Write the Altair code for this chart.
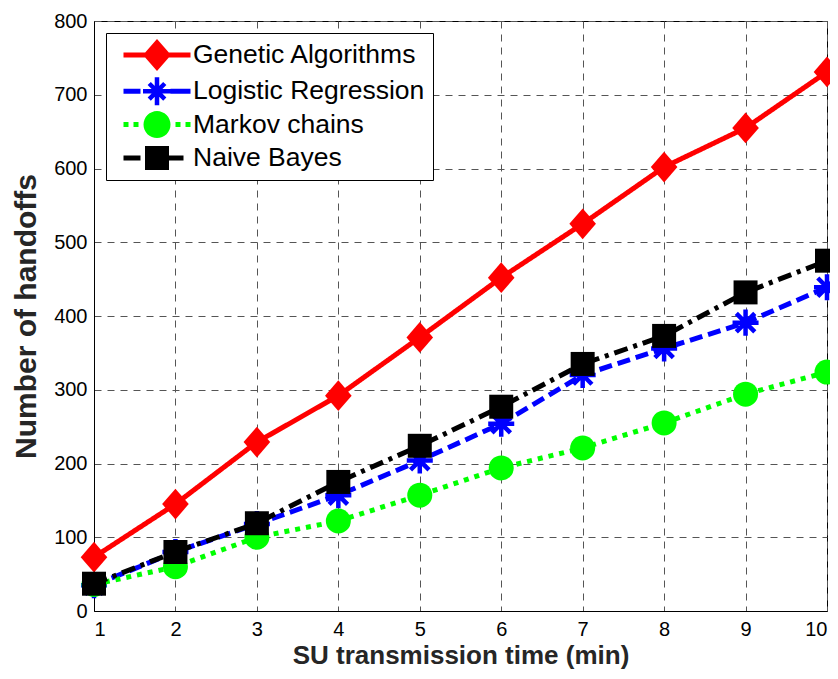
import math
import altair as alt
import pandas as pd

# ---- data ----
x_vals = [1, 2, 3, 4, 5, 6, 7, 8, 9, 10]
genetic = [73, 145, 229, 292, 371, 452, 525, 602, 655, 731]
logistic = [35, 80, 118, 157, 204, 254, 320, 356, 391, 439]
markov = [36, 60, 100, 122, 157, 194, 221, 255, 294, 324]
naive = [37, 80, 119, 175, 224, 277, 335, 373, 432, 475]
series_names = ["Genetic Algorithms", "Logistic Regression", "Markov chains", "Naive Bayes"]
y_ticks = [0, 100, 200, 300, 400, 500, 600, 700, 800]

rows = []
for name, vals in zip(series_names, [genetic, logistic, markov, naive]):
    for xv, yv in zip(x_vals, vals):
        rows.append({"series": name, "x": xv, "y": yv})
df = pd.DataFrame(rows)

FONT = "Liberation Sans"

# marker shapes (chart)
DIAMOND = "M0,-1.1L0.95,0L0,1.1L-0.95,0Z"
ASTER = ("M0,0L0,-0.93M0,0L0,0.93M0,0L0.93,0M0,0L-0.93,0"
         "M0,0L0.66,0.66M0,0L-0.66,-0.66M0,0L0.66,-0.66M0,0L-0.66,0.66")

styles = {
    "Genetic Algorithms": dict(color="#FF0000", dash=[1, 0], shape=DIAMOND, size=784, filled=True),
    "Logistic Regression": dict(color="#0000FF", dash=[13, 6], shape=ASTER, size=784, filled=False),
    "Markov chains": dict(color="#00FF00", dash=[5, 6], shape="circle", size=625, filled=True),
    "Naive Bayes": dict(color="#000000", dash=[14, 6, 4, 6], shape="square", size=576, filled=True),
}

# ---- legend symbol outlines (filled shapes, pixel units / 14) ----
U = 14.0


def poly(pts):
    return "M" + "L".join(f"{px / U:.3f},{py / U:.3f}" for px, py in pts) + "Z"


def rect(x0, x1, h=2.5):
    return poly([(x0, -h), (x1, -h), (x1, h), (x0, h)])


def rot_rect(length, thick, ang):
    c, s = math.cos(ang), math.sin(ang)
    pts = [(-length, -thick / 2), (length, -thick / 2), (length, thick / 2), (-length, thick / 2)]
    return poly([(px * c - py * s, px * s + py * c) for px, py in pts])


def circ(r, n=32):
    return poly([(r * math.cos(2 * math.pi * i / n), r * math.sin(2 * math.pi * i / n))
                 for i in range(n)])


LEG_GA = rect(-33.5, 33.5) + poly([(0, -16), (14, 0), (0, 16), (-14, 0)])
LEG_LR = (rect(-33.5, -16.5) + rect(13.5, 33.5)
          + rot_rect(14, 4.5, 0) + rot_rect(14, 4.5, math.pi / 2)
          + rot_rect(11, 4.5, math.pi / 4) + rot_rect(11, 4.5, -math.pi / 4))
LEG_MC = (rect(-33.5, -28.5) + rect(-23.5, -18.5) + rect(18.5, 23.5) + rect(28.5, 33.5)
          + circ(13.5))
LEG_NB = rect(-33.5, -16.5) + rect(11.5, 26.5) + poly([(-12, -12), (12, -12), (12, 12), (-12, 12)])

xenc = alt.X("x:Q", scale=alt.Scale(domain=[1, 10], nice=False, zero=False),
             axis=alt.Axis(values=x_vals, title="SU transmission time (min)", format="d",
                           labelPadding=8, titlePadding=3, titleFontSize=26))
yenc = alt.Y("y:Q", scale=alt.Scale(domain=[0, 800], nice=False),
             axis=alt.Axis(values=y_ticks, title="Number of handoffs", format="d",
                           labelPadding=7, titlePadding=12, titleFontSize=30))

layers = []
for name in series_names:
    s = styles[name]
    base = alt.Chart(df).transform_filter(alt.datum.series == name)
    line = base.mark_line(stroke=s["color"], strokeWidth=5, strokeDash=s["dash"],
                          strokeCap="butt").encode(x=xenc, y=yenc)
    if s["filled"]:
        pts = base.mark_point(filled=True, color=s["color"], shape=s["shape"], size=s["size"],
                              opacity=1).encode(x=xenc, y=yenc)
    else:
        pts = base.mark_point(filled=False, color=s["color"], shape=s["shape"], size=s["size"],
                              strokeWidth=4.5, opacity=1).encode(x=xenc, y=yenc)
    layers += [line, pts]

colors = ["#FF0000", "#0000FF", "#00FF00", "#000000"]
leg = alt.Legend(title=None, orient="none", legendX=12, legendY=12, symbolSize=784,
                 symbolStrokeWidth=0, labelFont=FONT, labelFontSize=26.5, labelColor="#000",
                 fillColor="white", strokeColor="#000", padding=8, rowPadding=5.3,
                 symbolOffset=29, labelOffset=22, labelLimit=400)
legend_layer = alt.Chart(df).transform_filter("datum.y < 0").mark_point(opacity=1).encode(
    x=xenc, y=yenc,
    stroke=alt.Stroke("series:N", scale=alt.Scale(domain=series_names, range=colors), legend=leg),
    fill=alt.Fill("series:N", scale=alt.Scale(domain=series_names, range=colors), legend=leg),
    shape=alt.Shape("series:N", scale=alt.Scale(domain=series_names,
                    range=[LEG_GA, LEG_LR, LEG_MC, LEG_NB]), legend=leg),
)
layers.append(legend_layer)

chart = alt.layer(*layers).properties(
    width=733, height=590,
    autosize=alt.AutoSizeParams(type="none"),
    padding={"left": 86, "top": 13, "right": 3, "bottom": 59},
).configure_view(stroke="#000", strokeWidth=1).configure_axis(
    domainColor="#000", domainWidth=1, ticks=False,
    grid=True, gridColor="#555", gridDash=[7, 6], gridWidth=1, gridOpacity=1,
    labelFont=FONT, labelFontSize=20, labelColor="#000",
    titleFont=FONT, titleFontWeight="bold", titleColor="#262626",
)

chart.save("out.html", embed_options={"renderer": "svg", "actions": False})
